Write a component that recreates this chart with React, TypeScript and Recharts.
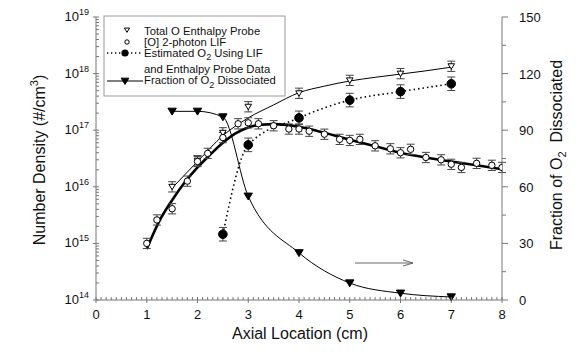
import React from 'react';
import { ComposedChart, Line, Scatter, XAxis, YAxis, ErrorBar, Customized } from 'recharts';

// ---------- data ----------
const totalOX = [1.5, 2, 2.5, 3, 4, 5, 6, 7];
const totalOY = [1.0e16, 2.9e16, 9.0e16, 2.6e17, 4.5e17, 7.6e17, 1.0e18, 1.35e18];

const totalOFitX = [1.5, 2, 2.5, 3, 3.5, 4, 4.5, 5, 5.5, 6, 6.5, 7];
const totalOFitY = [9.5e15, 2.8e16, 8.0e16, 1.65e17, 2.8e17, 4.6e17, 6.0e17, 7.4e17, 8.6e17, 9.8e17, 1.12e18, 1.3e18];

const lifX = [1.0, 1.2, 1.5, 1.8, 2.0, 2.2, 2.5, 2.8, 3.0, 3.2, 3.5, 3.8, 4.0, 4.2, 4.5, 4.8, 5.0, 5.2, 5.5, 5.8, 6.0, 6.2, 6.5, 6.8, 7.0, 7.2, 7.5, 7.8, 8.0];
const lifY = [1.0e15, 2.6e15, 4.1e15, 1.26e16, 2.8e16, 3.9e16, 7.4e16, 1.3e17, 1.35e17, 1.3e17, 1.2e17, 1.05e17, 1.05e17, 9.6e16, 8.5e16, 6.9e16, 6.6e16, 6.9e16, 5.3e16, 4.7e16, 4.0e16, 4.6e16, 3.3e16, 3.0e16, 2.5e16, 2.2e16, 2.6e16, 2.4e16, 2.2e16];

const lifFitX = [1.0, 1.25, 1.5, 1.75, 2.0, 2.25, 2.5, 2.75, 3.0, 3.25, 3.5, 3.75, 4.0, 4.5, 5.0, 5.5, 6.0, 6.5, 7.0, 7.5, 8.0];
const lifFitY = [8e14, 2.5e15, 5.8e15, 1.2e16, 2.2e16, 3.7e16, 6.0e16, 8.8e16, 1.12e17, 1.25e17, 1.28e17, 1.24e17, 1.15e17, 9.0e16, 6.8e16, 5.2e16, 4.0e16, 3.3e16, 2.8e16, 2.4e16, 2.05e16];

const o2X = [2.5, 3, 4, 5, 6, 7];
const o2Y = [1.45e15, 5.5e16, 1.65e17, 3.4e17, 4.8e17, 6.6e17];

const fracX = [1.5, 2, 2.5, 3, 4, 5, 6, 7];
const fracY = [100, 100, 97, 55, 25, 9, 3.6, 1.6];

// relative error-bar sizes (low, high) as fractions of the value
const probeErr: [number, number] = [0.19, 0.23];
const lifErr: [number, number] = [0.19, 0.23];
const o2Err: [number, number] = [0.24, 0.32];

// ---------- ticks ----------
const xAllTicks: number[] = [];
for (let i = 0; i <= 80; i++) xAllTicks.push(i / 10);
const yAllTicks: number[] = [];
for (let d = 14; d < 19; d++) for (let m = 1; m <= 9; m++) yAllTicks.push(m * Math.pow(10, d));
yAllTicks.push(1e19);
const rightTicks = [0, 15, 30, 45, 60, 75, 90, 105, 120, 135, 150];
const rightMajor = [0, 30, 60, 90, 120, 150];

// ---------- build tables ----------
const zip = (xs: number[], ys: number[], err?: [number, number]) =>
  xs.map((x, i) => (err ? { x, y: ys[i], err: [ys[i] * err[0], ys[i] * err[1]] } : { x, y: ys[i] }));

const totalOData = zip(totalOX, totalOY, probeErr);
const totalOFit = zip(totalOFitX, totalOFitY);
const lifData = zip(lifX, lifY, lifErr);
const lifFit = zip(lifFitX, lifFitY);
const o2Data = zip(o2X, o2Y, o2Err);
const fracData = zip(fracX, fracY);

const FONT = 'Liberation Sans, Arial, sans-serif';
const AXIS = '#777';

const DownTri = (cx: number, cy: number, s: number, fill: string, key?: any) => (
  <path key={key} d={`M${cx - s},${cy - s * 0.75} L${cx + s},${cy - s * 0.75} L${cx},${cy + s * 0.9} Z`} fill={fill} stroke="#000" strokeWidth={1} />
);

const OpenTriShape = (p: any) => DownTri(p.cx, p.cy, 3.3, '#fff');
const FilledTriShape = (p: any) => DownTri(p.cx, p.cy, 4.2, '#000');
const OpenCircleShape = (p: any) => <circle cx={p.cx} cy={p.cy} r={3.2} fill="#fff" stroke="#000" strokeWidth={1} />;
const FilledCircleShape = (p: any) => <circle cx={p.cx} cy={p.cy} r={4.3} fill="#000" stroke="#000" strokeWidth={1} />;

const XTick = (p: any) => {
  const v = p.payload.value;
  const major = Math.abs(v - Math.round(v)) < 1e-6;
  return (
    <g>
      <line x1={p.x} x2={p.x} y1={p.y - 3} y2={major ? p.y + 3 : p.y} stroke={AXIS} strokeWidth={1} />
      {major && (
        <text x={p.x} y={p.y + 19} textAnchor="middle" fontSize={13} fontFamily={FONT} fill="#111">
          {Math.round(v)}
        </text>
      )}
    </g>
  );
};

const LeftTick = (p: any) => {
  const v = p.payload.value;
  const lg = Math.log10(v);
  const major = Math.abs(lg - Math.round(lg)) < 1e-6;
  return (
    <g>
      <line x1={major ? p.x - 3 : p.x} x2={p.x + 3} y1={p.y} y2={p.y} stroke={AXIS} strokeWidth={1} />
      {major && (
        <text x={p.x - 7} y={p.y + 4} textAnchor="end" fontSize={13} fontFamily={FONT} fill="#111">
          10<tspan dy={-6} fontSize={9}>{Math.round(lg)}</tspan>
        </text>
      )}
    </g>
  );
};

const RightTick = (p: any) => {
  const v = p.payload.value;
  const major = rightMajor.includes(v);
  return (
    <g>
      <line x1={p.x} x2={p.x + (major ? 6 : 4)} y1={p.y} y2={p.y} stroke={AXIS} strokeWidth={1} />
      {major && (
        <text x={p.x + 17} y={p.y + 5} textAnchor="start" fontSize={13} fontFamily={FONT} fill="#111">
          {v}
        </text>
      )}
    </g>
  );
};

const Decor = () => (
  <g fontFamily={FONT} fill="#111">
    {/* axis titles */}
    <text x={300} y={339} textAnchor="middle" fontSize={16}>Axial Location (cm)</text>
    <text transform="translate(45,160) rotate(-90)" textAnchor="middle" fontSize={16}>
      Number Density (#/cm<tspan dy={-7} fontSize={11}>3</tspan><tspan dy={7}>)</tspan>
    </text>
    <text transform="translate(562,155) rotate(-90)" textAnchor="middle" fontSize={16}>
      Fraction of O<tspan dy={4} fontSize={11}>2</tspan><tspan dy={-4}>{'\u00a0\u00a0'}Dissociated</tspan>
    </text>
    {/* arrow pointing to right axis */}
    <line x1={355} y1={263} x2={413} y2={263} stroke="#666" strokeWidth={1} />
    <polyline points="403,260 413,263 403,266" fill="none" stroke="#666" strokeWidth={1} />
    {/* legend */}
    <rect x={104} y={16} width={181} height={80} fill="#fff" stroke="#999" strokeWidth={1} />
    <g fontSize={11.3}>
      {DownTri(127, 30, 2.6, '#fff', 'lt')}
      <text x={144} y={34.5}>Total O Enthalpy Probe</text>
      <circle cx={127} cy={42} r={2.2} fill="#fff" stroke="#000" />
      <text x={144} y={45.5}>[O] 2-photon LIF</text>
      <line x1={107} x2={143} y1={53} y2={53} stroke="#000" strokeWidth={1.3} strokeDasharray="1.3 2.7" />
      <circle cx={125} cy={53} r={3.6} fill="#000" />
      <text x={144} y={56.5}>Estimated O<tspan dy={3.5} fontSize={9}>2</tspan><tspan dy={-3.5}> Using LIF</tspan></text>
      <text x={144} y={72.5}>and Enthalpy Probe Data</text>
      <line x1={107} x2={143} y1={81} y2={81} stroke="#000" strokeWidth={1} />
      {DownTri(125, 81, 3.8, '#000', 'lf')}
      <text x={144} y={84}>Fraction of O<tspan dy={3.5} fontSize={9}>2</tspan><tspan dy={-3.5}> Dissociated</tspan></text>
    </g>
  </g>
);

export default function App() {
  return (
    <div style={{ position: 'absolute', left: 0, top: 0, width: 578, height: 354, background: '#fff' }}>
      <ComposedChart width={578} height={354} margin={{ top: 17, right: 26, bottom: 24, left: 36 }}>
        <XAxis
          type="number"
          dataKey="x"
          domain={[0, 8]}
          ticks={xAllTicks}
          interval={0}
          tick={<XTick />}
          tickLine={false}
          tickSize={0}
          tickMargin={0}
          axisLine={{ stroke: AXIS }}
          height={30}
          allowDataOverflow
        />
        <YAxis
          yAxisId="left"
          scale="log"
          domain={[1e14, 1e19]}
          type="number"
          ticks={yAllTicks}
          interval={0}
          tick={<LeftTick />}
          tickLine={false}
          tickSize={0}
          tickMargin={0}
          axisLine={{ stroke: AXIS }}
          width={60}
          allowDataOverflow
        />
        <YAxis
          yAxisId="right"
          orientation="right"
          domain={[0, 150]}
          type="number"
          ticks={rightTicks}
          interval={0}
          tick={<RightTick />}
          tickLine={false}
          tickSize={0}
          tickMargin={0}
          axisLine={{ stroke: AXIS }}
          width={50}
        />

        <Line yAxisId="left" data={totalOFit} dataKey="y" type="monotone" stroke="#000" strokeWidth={1} dot={false} isAnimationActive={false} />
        <Line yAxisId="left" data={lifFit} dataKey="y" type="monotone" stroke="#000" strokeWidth={2.6} dot={false} isAnimationActive={false} />
        <Line yAxisId="left" data={o2Data} dataKey="y" type="monotone" stroke="#000" strokeWidth={1.6} strokeDasharray="1.5 3" dot={false} isAnimationActive={false} />
        <Line yAxisId="right" data={fracData} dataKey="y" type="monotone" stroke="#000" strokeWidth={1} dot={false} isAnimationActive={false} />

        <Scatter yAxisId="left" data={totalOData} dataKey="y" shape={OpenTriShape} isAnimationActive={false}>
          <ErrorBar dataKey="err" direction="y" width={4} stroke="#444" strokeWidth={1} />
        </Scatter>
        <Scatter yAxisId="left" data={lifData} dataKey="y" shape={OpenCircleShape} isAnimationActive={false}>
          <ErrorBar dataKey="err" direction="y" width={4} stroke="#444" strokeWidth={1} />
        </Scatter>
        <Scatter yAxisId="left" data={o2Data} dataKey="y" shape={FilledCircleShape} isAnimationActive={false}>
          <ErrorBar dataKey="err" direction="y" width={4} stroke="#444" strokeWidth={1} />
        </Scatter>
        <Scatter yAxisId="right" data={fracData} dataKey="y" shape={FilledTriShape} isAnimationActive={false} />

        <Customized component={Decor} />
      </ComposedChart>
    </div>
  );
}
